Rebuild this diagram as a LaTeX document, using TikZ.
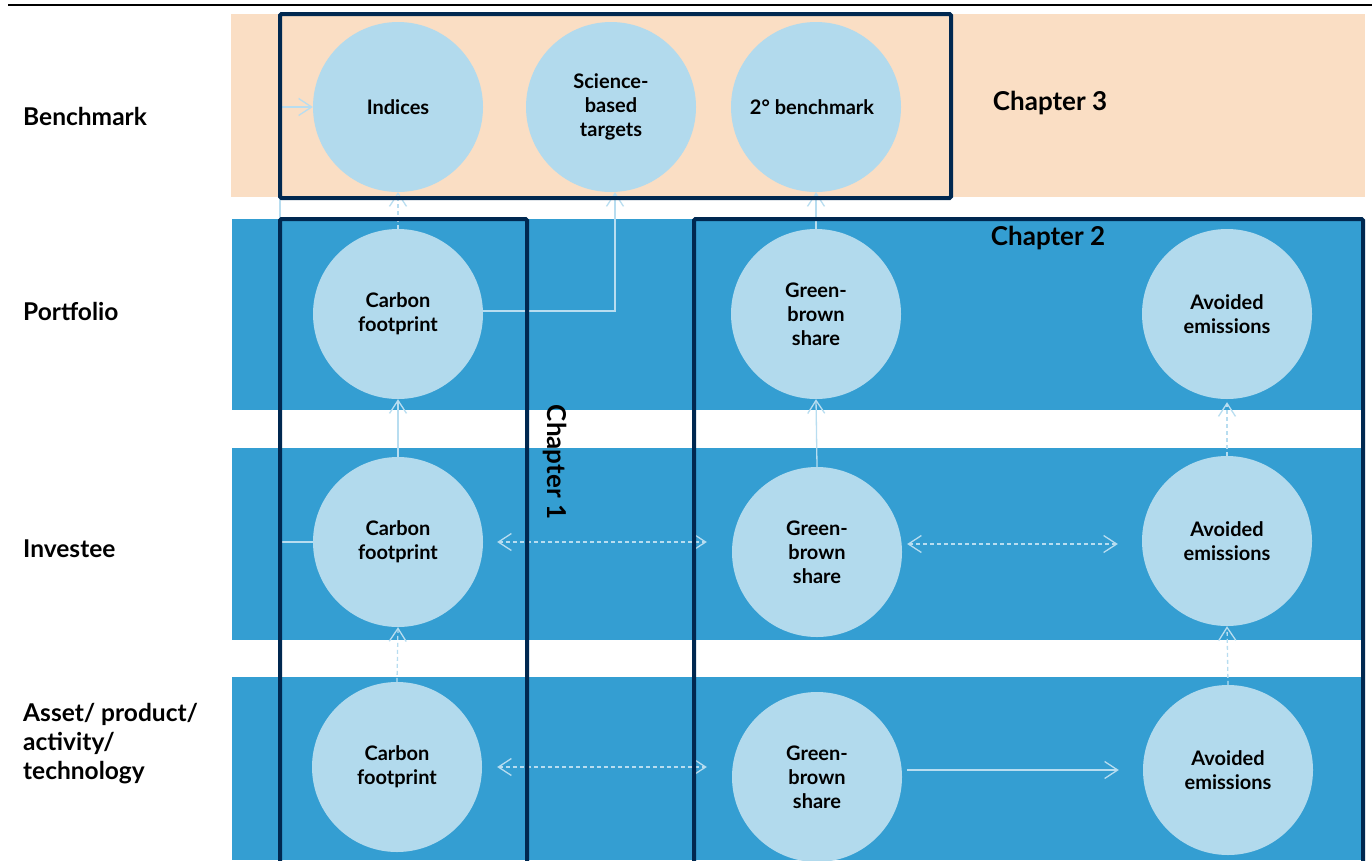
\documentclass[tikz,border=0pt]{standalone}
\usepackage{fontspec}
\setmainfont{Lato}
\usetikzlibrary{arrows.meta,calc}
\definecolor{bandblue}{HTML}{349ED2}
\definecolor{peach}{HTML}{FADEC4}
\definecolor{circ}{HTML}{B2DAED}
\definecolor{navy}{HTML}{002850}
\definecolor{conn}{HTML}{B8DDF0}
\tikzset{
  band/.style={fill=bandblue,draw=none},
  bubble/.style={circle,fill=circ,draw=none,minimum size=170pt,inner sep=0pt,align=center,
    font=\fontsize{20}{24}\selectfont\bfseries},
  chapbox/.style={draw=navy,line width=4pt,rounded corners=1.5pt},
  chaptext/.style={font=\fontsize{26}{30}\selectfont\bfseries,inner sep=0pt},
  rowlabel/.style={font=\fontsize{24.5}{29}\selectfont\bfseries,anchor=west,align=left,inner sep=0pt},
  tip/.style={-{Straight Barb[length=13pt,width=17pt,line width=1.3pt]}},
  solidconn/.style={draw=conn,line width=1.3pt,tip},
  dashconn/.style={draw=conn,line width=1.3pt,dash pattern=on 4pt off 3pt,tip},
  dblconn/.style={draw=conn,line width=1.3pt,dash pattern=on 4pt off 3pt,
    {Straight Barb[length=13pt,width=17pt,line width=1.3pt]}-{Straight Barb[length=13pt,width=17pt,line width=1.3pt]}},
}
\begin{document}
\begin{tikzpicture}[x=1pt,y=-1pt]
\useasboundingbox (0,0) rectangle (1372,860);
\fill[white] (0,0) rectangle (1372,860);
% top rule
\draw[black,line width=1.2pt] (8,5) -- (1372,5);
% bands
\fill[peach] (231,14) rectangle (1365,197);
\fill[band] (232,219) rectangle (1363,410);
\fill[band] (232,448) rectangle (1363,640);
\fill[band] (232,677) rectangle (1363,860);
% circles
\node[bubble] (ind) at (398,107) {Indices};
\node[bubble] (sbt) at (611,107) {Science-\\based\\targets};
\node[bubble] (deg) at (816,107) {2° benchmark\hspace*{8pt}};
\node[bubble] (cfP) at (398,314) {Carbon\\footprint};
\node[bubble] (gbP) at (816,314) {Green-\\brown\\share};
\node[bubble] (aeP) at (1227,314) {Avoided\\emissions};
\node[bubble] (cfI) at (398,542) {Carbon\\footprint};
\node[bubble] (gbI) at (817,552) {Green-\\brown\\share};
\node[bubble] (aeI) at (1227,541) {Avoided\\emissions};
\node[bubble] (cfA) at (397,767) {Carbon\\footprint};
\node[bubble] (gbA) at (817,777) {Green-\\brown\\share};
\node[bubble] (aeA) at (1228,770) {Avoided\\emissions};
% connectors
\coordinate (lx) at (280,0);
\draw[dashconn] (cfP.north) -- (ind.south);
\draw[solidconn] ([yshift=3pt]cfP.east) -| ($(sbt.south)+(4,0)$);
\draw[solidconn] (gbP.north) -- (deg.south);
\draw[solidconn] (cfI.north) -- (cfP.south);
\draw[solidconn] (gbI.north) -- (gbP.south);
\draw[dashconn,shorten >=3pt] (aeI.north) -- (aeP.south);
\draw[dashconn] (cfA.north) -- (cfI.south);
\draw[dashconn] (aeA.north) -- (aeI.south);
\draw[solidconn] (cfI.west) -- (cfI.west -| lx) |- (ind.west);
\draw[dblconn,shorten <=14pt,shorten >=25pt] (cfI.east) -- (cfI.east -| gbI.west);
\draw[dblconn,shorten <=5pt,shorten >=24pt] ([yshift=8pt]gbI.east) -- ([yshift=8pt]gbI.east -| aeI.west);
\draw[dblconn,shorten <=15pt,shorten >=25pt] (cfA.east) -- (cfA.east -| gbA.west);
\draw[solidconn,shorten <=5pt,shorten >=24pt] (aeA.west -| gbA.east) -- (aeA.west);
% chapter boxes
\draw[chapbox] (280,14) rectangle (951,198);
\draw[chapbox] (280,219) rectangle (527,875);
\draw[chapbox] (694,219) rectangle (1363,875);
% chapter labels
\node[chaptext] (ch3) at (1050,103) {Chapter 3};
\node[chaptext] (ch2) at (1048,238) {Chapter 2};
\node[chaptext,rotate=-90] (ch1) at (555,462) {Chapter 1};
% row labels
\node[rowlabel] (rb) at (23,116) {Benchmark};
\node[rowlabel] (rp) at (23,311) {Portfolio};
\node[rowlabel] (ri) at (23,549) {Investee};
\node[rowlabel] (ra) at (23,744) {Asset/ product/\\activity/\\technology};
\end{tikzpicture}
\end{document}
